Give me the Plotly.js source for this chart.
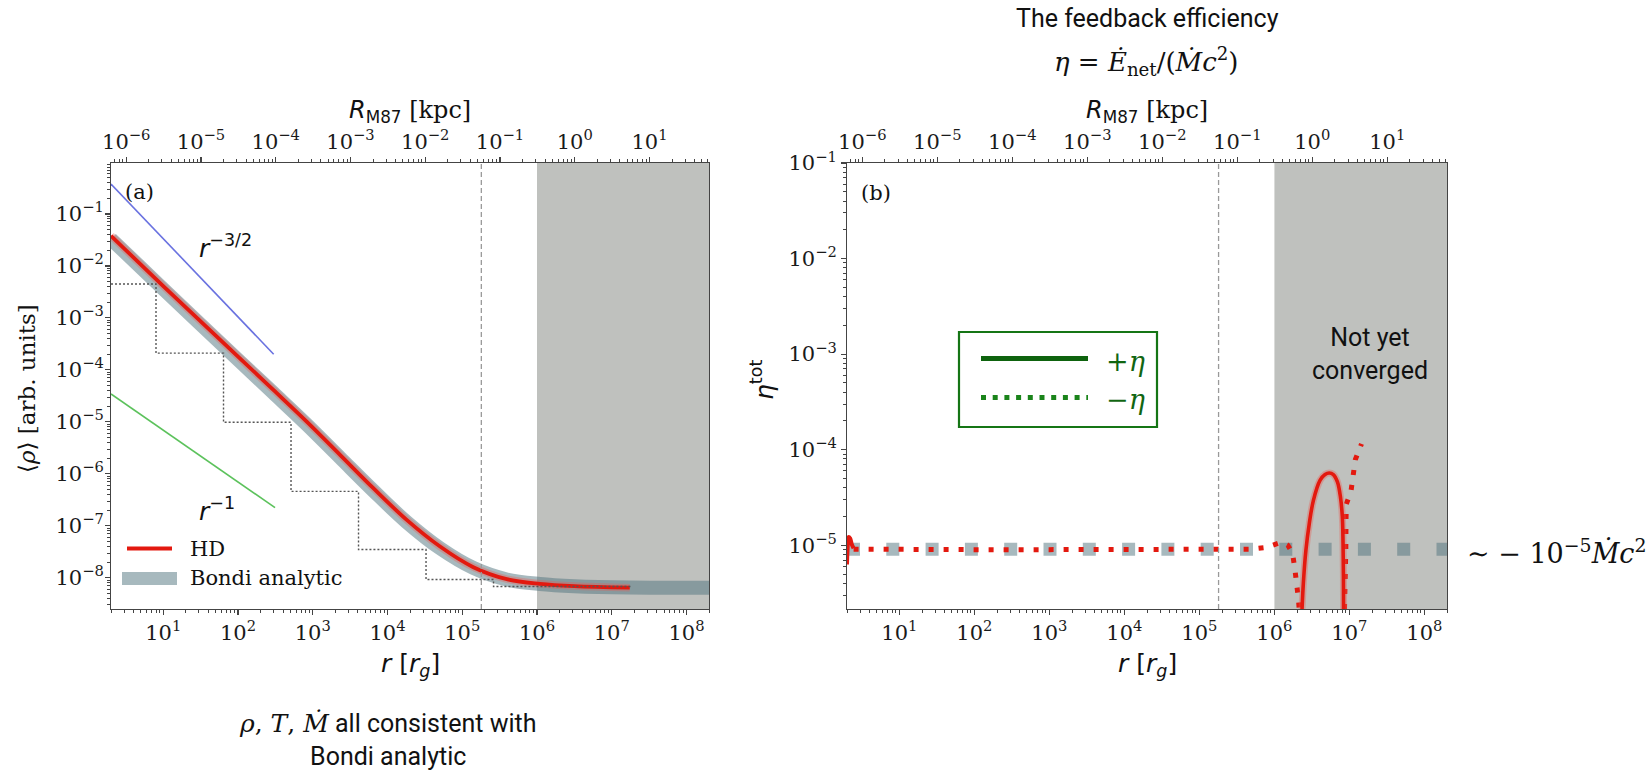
<!DOCTYPE html>
<html><head><meta charset="utf-8">
<script src="https://cdn.plot.ly/plotly-3.0.1.min.js"></script>
<style>html,body{margin:0;padding:0;background:#fff;} #chart{width:1652px;height:772px;}</style>
</head><body><div id="chart"></div>
<script>
// ---------------- data ----------------
// panel (a): density profile
const hdR      = [2, 10, 106, 297, 830, 2317, 6457, 18070, 50470, 140600, 393600, 1.096e6, 3.16e6, 1.74e7];
const hdRho    = [3.8e-2, 4.1e-3, 1.67e-4, 4.12e-5, 1.01e-5, 2.32e-6, 5.30e-7, 1.30e-7, 3.99e-8, 1.60e-8, 9.42e-9, 7.66e-9, 6.92e-9, 6.46e-9];
const bondiR   = [2, 10, 106, 297, 830, 2317, 6457, 18070, 50470, 140600, 393600, 1.096e6, 3.16e6, 1.74e7, 2e8];
const bondiRho = [3.3e-2, 3.6e-3, 1.45e-4, 3.6e-5, 8.9e-6, 2.05e-6, 4.75e-7, 1.18e-7, 3.7e-8, 1.55e-8, 9.3e-9, 7.6e-9, 6.9e-9, 6.5e-9, 6.45e-9];
const stepR    = [2, 8, 64, 512, 4096, 32768, 262144, 1.8e7];
const stepRho  = [4.5e-3, 2.1e-4, 9.8e-6, 4.6e-7, 3.5e-8, 9.3e-9, 6.8e-9, 6.8e-9];
const slope32R = [2, 300];
const slope32Rho = [0.377, 2.0e-4];
const slope1R  = [2, 313];
const slope1Rho = [3.45e-5, 2.24e-7];

// panel (b): feedback efficiency
const etaBondiR = [2, 2e8];
const etaBondi  = [9.1e-6, 9.1e-6];
const posEtaStartR = [2.0, 2.04, 2.1, 2.2, 2.32, 2.45];
const posEtaStart  = [6.3e-6, 9.5e-6, 1.22e-5, 1.18e-5, 1.02e-5, 9.3e-6];
const negEtaR  = [2.45, 10, 100, 1e3, 1e4, 1e5, 4.7e5, 7.8e5, 1.26e6, 1.51e6, 1.74e6, 1.86e6, 2.0e6, 2.09e6, 2.2e6];
const negEta   = [9.1e-6, 9.0e-6, 9.0e-6, 9.0e-6, 9.0e-6, 8.9e-6, 9.1e-6, 9.5e-6, 1.08e-5, 1.0e-5, 8.3e-6, 5.9e-6, 4.1e-6, 2.75e-6, 1.6e-6];
const negEta2R = [8.5e6, 8.7e6, 8.9e6, 8.95e6, 9.0e6, 9.1e6, 1.05e7, 1.12e7, 1.2e7, 1.45e7];
const negEta2  = [1.5e-6, 2.75e-6, 4.2e-6, 8.9e-6, 1.86e-5, 2.7e-5, 3.7e-5, 5.5e-5, 7.9e-5, 1.15e-4];
const posEtaR  = [2.29e6, 2.43e6, 2.63e6, 2.92e6, 3.31e6, 4.07e6, 4.73e6, 5.37e6, 6.1e6, 6.92e6, 7.59e6, 8.04e6, 8.22e6, 8.32e6, 8.36e6];
const posEta   = [1.5e-6, 4.0e-6, 8.9e-6, 1.7e-5, 2.95e-5, 4.8e-5, 5.5e-5, 5.7e-5, 5.5e-5, 4.6e-5, 3.2e-5, 2.0e-5, 1.05e-5, 4.7e-6, 1.5e-6];

// reference radii
const rBondiLine = 1.8e5;         // dashed vertical line
const convergedR = [1e6, 2e8];    // shaded "not yet converged" region
const rgPerKpc = 3.2e6;           // r_g per kpc for M87

// ticks
const rTicks    = [1e1, 1e2, 1e3, 1e4, 1e5, 1e6, 1e7, 1e8];
const rTickText = ['10<sup>1</sup>','10<sup>2</sup>','10<sup>3</sup>','10<sup>4</sup>','10<sup>5</sup>','10<sup>6</sup>','10<sup>7</sup>','10<sup>8</sup>'];
const kpcTicks    = [1e-6, 1e-5, 1e-4, 1e-3, 1e-2, 1e-1, 1e0, 1e1];
const kpcTickText = ['10<sup>−6</sup>','10<sup>−5</sup>','10<sup>−4</sup>','10<sup>−3</sup>','10<sup>−2</sup>','10<sup>−1</sup>','10<sup>0</sup>','10<sup>1</sup>'];
const rhoTicks    = [1e-1, 1e-2, 1e-3, 1e-4, 1e-5, 1e-6, 1e-7, 1e-8];
const rhoTickText = ['10<sup>−1</sup>','10<sup>−2</sup>','10<sup>−3</sup>','10<sup>−4</sup>','10<sup>−5</sup>','10<sup>−6</sup>','10<sup>−7</sup>','10<sup>−8</sup>'];
const etaTicks    = [1e-1, 1e-2, 1e-3, 1e-4, 1e-5];
const etaTickText = ['10<sup>−1</sup>','10<sup>−2</sup>','10<sup>−3</sup>','10<sup>−4</sup>','10<sup>−5</sup>'];

// ---------------- styling ----------------
const W = 1652, H = 772;
const PX = x => x / W, PY = y => 1 - y / H;
const SERIF = 'DejaVu Serif', SANS = 'DejaVu Sans', TXT = 'Roboto';
const RED = '#e3190f';
const BAND = 'rgba(80,115,125,0.5)';
const GREEN = '#157515';
const xr = [Math.log10(2), Math.log10(2e8)];
const kr = [Math.log10(2 / rgPerKpc), Math.log10(2e8 / rgPerKpc)];

const tickfont = {family: SERIF, size: 21, color: '#1a1a1a'};
const minor = {dtick: 'D1', ticks: 'outside', ticklen: 2.5, tickcolor: '#444', tickwidth: 1};
function xAxis(domain, anchor) {
  return {type: 'log', domain, anchor, range: xr, tickmode: 'array', tickvals: rTicks, ticktext: rTickText,
    ticks: 'outside', ticklen: 4.5, tickcolor: '#444', tickwidth: 1.2, minor, tickfont,
    showline: true, linecolor: '#444', linewidth: 1.4, showgrid: false, zeroline: false};
}
function topAxis(over, anchor) {
  return {type: 'log', overlaying: over, anchor, side: 'top', range: kr, tickmode: 'array',
    tickvals: kpcTicks, ticktext: kpcTickText, ticks: 'outside', ticklen: 4.5, tickcolor: '#444', tickwidth: 1.2,
    minor, tickfont, showline: true, linecolor: '#444', linewidth: 1.4, showgrid: false, zeroline: false};
}
function yAxis(domainY, anchor, range, tv, tt, standoff) {
  return {type: 'log', domain: domainY, anchor, range, tickmode: 'array', tickvals: tv, ticktext: tt,
    ticks: 'outside', ticklen: 4.5, tickcolor: '#444', tickwidth: 1.2, minor, tickfont, ticklabelstandoff: standoff,
    showline: true, mirror: true, linecolor: '#444', linewidth: 1.4, showgrid: false, zeroline: false};
}
const yDom = [PY(609), PY(163)];

const traces = [
  // panel (a)
  {x: bondiR, y: bondiRho, mode: 'lines', line: {color: BAND, width: 14, shape: 'spline'}, xaxis: 'x', yaxis: 'y'},
  {x: hdR, y: hdRho, mode: 'lines', line: {color: 'rgba(235,90,80,0.35)', width: 7.5, shape: 'spline'}, xaxis: 'x', yaxis: 'y'},
  {x: hdR, y: hdRho, mode: 'lines', line: {color: RED, width: 3.8, shape: 'spline'}, xaxis: 'x', yaxis: 'y'},
  {x: slope32R, y: slope32Rho, mode: 'lines', line: {color: '#6a72e0', width: 1.6}, xaxis: 'x', yaxis: 'y'},
  {x: slope1R, y: slope1Rho, mode: 'lines', line: {color: '#5cc25c', width: 1.6}, xaxis: 'x', yaxis: 'y'},
  {x: stepR, y: stepRho, mode: 'lines', line: {color: '#555', width: 1.4, dash: '2px,2px', shape: 'hv'}, xaxis: 'x', yaxis: 'y'},
  {x: [null], y: [null], mode: 'lines', xaxis: 'x3', yaxis: 'y'},
  // panel (b)
  {x: etaBondiR, y: etaBondi, mode: 'lines', line: {color: BAND, width: 13, dash: '13px,26.3px'}, xaxis: 'x2', yaxis: 'y2'},
  {x: posEtaStartR, y: posEtaStart, mode: 'lines', line: {color: RED, width: 4, shape: 'spline'}, xaxis: 'x2', yaxis: 'y2'},
  {x: negEtaR, y: negEta, mode: 'lines', line: {color: RED, width: 5, dash: '5px,10px'}, xaxis: 'x2', yaxis: 'y2'},
  {x: negEta2R, y: negEta2, mode: 'lines', line: {color: RED, width: 5, dash: '5px,10px'}, xaxis: 'x2', yaxis: 'y2'},
  {x: posEtaR, y: posEta, mode: 'lines', line: {color: 'rgba(235,90,80,0.35)', width: 7, shape: 'spline'}, xaxis: 'x2', yaxis: 'y2'},
  {x: posEtaR, y: posEta, mode: 'lines', line: {color: RED, width: 3.6, shape: 'spline'}, xaxis: 'x2', yaxis: 'y2'},
  {x: [null], y: [null], mode: 'lines', xaxis: 'x4', yaxis: 'y2'}
].map(t => Object.assign({showlegend: false, hoverinfo: 'skip'}, t));

const shapes = [];
[['x', 'y'], ['x2', 'y2']].forEach(([xa, ya]) => {
  shapes.push({type: 'rect', xref: xa, yref: ya + ' domain', x0: convergedR[0], x1: convergedR[1], y0: 0, y1: 1,
    fillcolor: '#bfc1be', line: {width: 0}, layer: 'below'});
  shapes.push({type: 'line', xref: xa, yref: ya + ' domain', x0: rBondiLine, x1: rBondiLine, y0: 0, y1: 1,
    line: {color: '#999', width: 1.3, dash: '5px,3px'}, layer: 'above'});
});
// legend (a)
shapes.push({type: 'line', xref: 'paper', yref: 'paper', x0: PX(127), x1: PX(172), y0: PY(548.5), y1: PY(548.5), line: {color: RED, width: 4}});
shapes.push({type: 'rect', xref: 'paper', yref: 'paper', x0: PX(122), x1: PX(177), y0: PY(585), y1: PY(572), fillcolor: BAND, line: {width: 0}});
// legend (b)
shapes.push({type: 'rect', xref: 'paper', yref: 'paper', x0: PX(959), x1: PX(1157), y0: PY(427), y1: PY(332), line: {color: GREEN, width: 2.2}, fillcolor: 'rgba(255,255,255,0)'});
shapes.push({type: 'line', xref: 'paper', yref: 'paper', x0: PX(981), x1: PX(1088), y0: PY(358.5), y1: PY(358.5), line: {color: '#0e630e', width: 5}});
shapes.push({type: 'line', xref: 'paper', yref: 'paper', x0: PX(981), x1: PX(1088), y0: PY(397.5), y1: PY(397.5), line: {color: '#1a841a', width: 5, dash: '5px,6.7px'}});

function ann(text, x, y, size, family, opts) {
  return Object.assign({text, x: PX(x), y: PY(y), xref: 'paper', yref: 'paper', showarrow: false,
    xanchor: 'center', yanchor: 'middle', font: {family, size, color: '#111'}}, opts || {});
}
const S = f => '<span style="font-family:' + f + '">';
const annotations = [
  ann('The feedback efficiency', 1147, 19, 25, TXT),
  ann('<i>η</i> = <i>Ė</i><sub>net</sub>/(<i>Ṁc</i><sup>2</sup>)', 1146, 61, 26, SERIF),
  ann('<i>' + S(SANS) + 'R</span></i>' + S(SANS) + '<sub>M87</sub></span> [kpc]', 410, 112, 24, SERIF),
  ann('<i>' + S(SANS) + 'R</span></i>' + S(SANS) + '<sub>M87</sub></span> [kpc]', 1147, 112, 24, SERIF),
  ann('(a)', 139, 192, 21, SERIF),
  ann('(b)', 876, 193, 21, SERIF),
  ann('<i>r</i><sup>−3/2</sup>', 225, 246, 25, SANS),
  ann('<i>r</i><sup>−1</sup>', 217, 509, 25, SANS),
  ann('HD', 188, 549, 21, SERIF, {xanchor: 'left'}),
  ann('Bondi analytic', 188, 578, 21, SERIF, {xanchor: 'left'}),
  ann('⟨<i>ρ</i>⟩ [arb. units]', 27, 389, 23, SERIF, {textangle: -90}),
  ann('<i>r</i> [<i>r</i><sub><i>g</i></sub>]', 410, 665, 25, SANS),
  ann('<i>r</i> [<i>r</i><sub><i>g</i></sub>]', 1147, 665, 25, SANS),
  ann('<i>η</i><sup>tot</sup>', 762, 380, 25, SANS, {textangle: -90}),
  ann('+<i>η</i>', 1104, 361, 27, SERIF, {xanchor: 'left', font: {family: SERIF, size: 27, color: '#116611'}}),
  ann('−<i>η</i>', 1104, 400, 27, SERIF, {xanchor: 'left', font: {family: SERIF, size: 27, color: '#116611'}}),
  ann('Not yet<br>converged', 1370, 354, 25, TXT),
  ann('∼ − 10<sup>−5</sup><i>Ṁc</i><sup>2</sup>', 1465, 551, 27, SERIF, {xanchor: 'left'}),
  ann(S(SERIF) + '<i>ρ</i>, <i>T</i>, <i>Ṁ</i></span> all consistent with<br>Bondi analytic', 387, 740, 25, TXT)
];

const layout = {
  width: W, height: H, margin: {l: 0, r: 0, t: 0, b: 0}, paper_bgcolor: '#fff', plot_bgcolor: '#fff',
  showlegend: false,
  xaxis: xAxis([PX(111), PX(709)], 'y'),
  yaxis: yAxis(yDom, 'x', [-8.6, -0.02], rhoTicks, rhoTickText, -3),
  xaxis2: xAxis([PX(847), PX(1447)], 'y2'),
  yaxis2: yAxis(yDom, 'x2', [-5.667, -1.0], etaTicks, etaTickText, 0),
  xaxis3: topAxis('x', 'y'),
  xaxis4: topAxis('x2', 'y2'),
  shapes, annotations
};
Plotly.newPlot('chart', traces, layout, {displayModeBar: false, staticPlot: true});
</script></body></html>
